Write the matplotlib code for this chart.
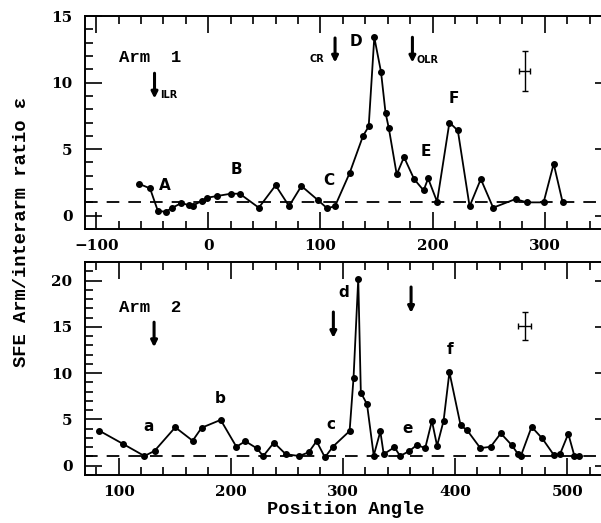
import matplotlib
matplotlib.use("Agg")
import matplotlib.pyplot as plt
from matplotlib.ticker import MultipleLocator

# ---------------- data ----------------
arm1_pa = [-62, -52, -45, -38, -32, -24, -17, -14, -6, -1, 8, 20, 28, 45, 60, 72, 83, 98,
           106, 113, 126, 138, 143, 148, 154, 158, 161, 168, 174.5, 183.5, 192, 196, 204,
           215, 222.5, 233, 243, 254, 274, 284, 299, 308, 316]
arm1_eps = [2.4, 2.05, 0.35, 0.3, 0.6, 0.95, 0.78, 0.75, 1.1, 1.35, 1.48, 1.65, 1.65, 0.6,
            2.28, 0.72, 2.23, 1.15, 0.55, 0.72, 3.2, 6.0, 6.7, 13.4, 10.8, 7.75, 6.55, 3.1,
            4.4, 2.75, 1.9, 2.8, 1.05, 7.0, 6.4, 0.7, 2.75, 0.6, 1.25, 1.0, 1.0, 3.9, 1.0]

arm2_pa = [82.5, 104, 123, 132, 150.5, 166, 174, 191, 205, 213, 223, 229, 238.5, 249, 261,
           269.5, 276.5, 284, 291, 306, 309.5, 313.7, 316, 321.5, 327.5, 333.4, 336.4, 346,
           351, 359.4, 366, 373.4, 379.4, 384, 389.8, 395, 405, 410.7, 422.6, 431.8, 440.8,
           450.4, 456.3, 458.7, 468.3, 477.8, 488.2, 493.6, 501, 506.5, 510.6]
arm2_eps = [3.8, 2.35, 1.05, 1.6, 4.15, 2.7, 4.1, 4.95, 2.05, 2.65, 1.9, 1.05, 2.5, 1.25,
            1.05, 1.45, 2.65, 0.9, 2.05, 3.75, 9.5, 20.2, 7.9, 6.65, 1.1, 3.7, 1.25, 2.0,
            1.05, 1.6, 2.25, 1.9, 4.85, 2.15, 4.85, 10.1, 4.35, 3.85, 1.9, 2.05, 3.5, 2.25,
            1.25, 1.05, 4.2, 2.95, 1.15, 1.25, 3.45, 1.05, 1.05]

arm1_labels = ["A", "B", "C", "D", "E", "F"]
arm1_label_pa = [-39, 25, 107, 132, 194, 219]
arm1_label_eps = [2.25, 3.5, 2.65, 13.05, 4.8, 8.8]

arm2_labels = ["a", "b", "c", "d", "e", "f"]
arm2_label_pa = [127, 191, 289, 301, 358, 396]
arm2_label_eps = [4.2, 7.3, 4.5, 18.7, 4.0, 12.6]

arm1_arrows_pa = [-48, 113, 182]
arm1_arrow_names = ["ILR", "CR", "OLR"]
arm2_arrows_pa = [131.6, 291.5, 360.8]

# ---------------- figure ----------------
W, H = 601, 523
fig = plt.figure(figsize=(W / 100, H / 100), dpi=100)

serif = "DejaVu Serif"
mono = ["Liberation Mono", "DejaVu Serif"]
sans = "DejaVu Sans"

def px_axes(left, top, right, bottom):
    return [left / W, 1 - bottom / H, (right - left) / W, (bottom - top) / H]

ax1 = fig.add_axes(px_axes(85, 16, 612, 229))
ax2 = fig.add_axes(px_axes(85, 262, 612, 475))

def style(ax, xlim, ylim, ymajor):
    ax.set_xlim(*xlim)
    ax.set_ylim(*ylim)
    ax.xaxis.set_major_locator(MultipleLocator(100))
    ax.xaxis.set_minor_locator(MultipleLocator(20))
    ax.yaxis.set_major_locator(MultipleLocator(ymajor))
    ax.yaxis.set_minor_locator(MultipleLocator(1))
    ax.tick_params(which="both", direction="in", top=True, right=True, width=1.2)
    ax.tick_params(which="major", length=12)
    ax.tick_params(which="minor", length=6)
    ax.tick_params(axis="x", pad=7, labelsize=11)
    ax.tick_params(axis="y", pad=9, labelsize=11)
    for lab in ax.get_xticklabels() + ax.get_yticklabels():
        lab.set_family(serif)
        lab.set_weight("bold")
    for s in ax.spines.values():
        s.set_linewidth(1.4)
    ax.axhline(1, color="black", lw=1.3, dashes=(7, 5), zorder=1)

def arrow(ax, x, y0, y1):
    ax.annotate("", xy=(x, y1), xytext=(x, y0),
                arrowprops=dict(arrowstyle="-|>", lw=2.2, color="black",
                                mutation_scale=9, shrinkA=0, shrinkB=0))

# ---- top panel ----
ax1.plot(arm1_pa, arm1_eps, color="black", lw=1.3, marker="o", ms=4, zorder=3)
style(ax1, (-110, 360), (-1, 15), 5)
ax1.text(-80, 11.85, "Arm  1", family=mono, weight="bold", fontsize=12.5,
         ha="left", va="center")
arrow(ax1, arm1_arrows_pa[0], 10.7, 8.8)
arrow(ax1, arm1_arrows_pa[1], 13.35, 11.5)
arrow(ax1, arm1_arrows_pa[2], 13.4, 11.5)
ax1.text(arm1_arrows_pa[0] + 5, 9.05, arm1_arrow_names[0], family=sans, weight="bold",
         fontsize=7, ha="left", va="center")
ax1.text(arm1_arrows_pa[1] - 10, 11.8, arm1_arrow_names[1], family=sans, weight="bold",
         fontsize=7, ha="right", va="center")
ax1.text(arm1_arrows_pa[2] + 4, 11.7, arm1_arrow_names[2], family=sans, weight="bold",
         fontsize=7, ha="left", va="center")
for t, x, y in zip(arm1_labels, arm1_label_pa, arm1_label_eps):
    ax1.text(x, y, t, family=sans, weight="bold", fontsize=11, ha="center", va="center")
ax1.errorbar([282], [10.9], xerr=[5], yerr=[1.5], color="black", lw=1.0, capsize=2)

# ---- bottom panel ----
ax2.plot(arm2_pa, arm2_eps, color="black", lw=1.3, marker="o", ms=4, zorder=3)
style(ax2, (70, 540), (-1, 22), 5)
ax2.text(100, 17.1, "Arm  2", family=mono, weight="bold", fontsize=12.5,
         ha="left", va="center")
arrow(ax2, arm2_arrows_pa[0], 15.5, 12.8)
arrow(ax2, arm2_arrows_pa[1], 16.6, 13.8)
arrow(ax2, arm2_arrows_pa[2], 19.3, 16.5)
for t, x, y in zip(arm2_labels, arm2_label_pa, arm2_label_eps):
    ax2.text(x, y, t, family=sans, weight="bold", fontsize=11, ha="center", va="center")
ax2.errorbar([462], [15.1], xerr=[5.5], yerr=[1.5], color="black", lw=1.0, capsize=2)

fig.text(346 / W, 1 - 510 / H, "Position Angle", family=mono, weight="bold",
         fontsize=13.5, ha="center", va="center")
fig.text(22 / W, 1 - 232 / H, "SFE Arm/interarm ratio ε", family=mono, weight="bold",
         fontsize=13.5, rotation=90, ha="center", va="center")

fig.savefig("out.png", dpi=100)
